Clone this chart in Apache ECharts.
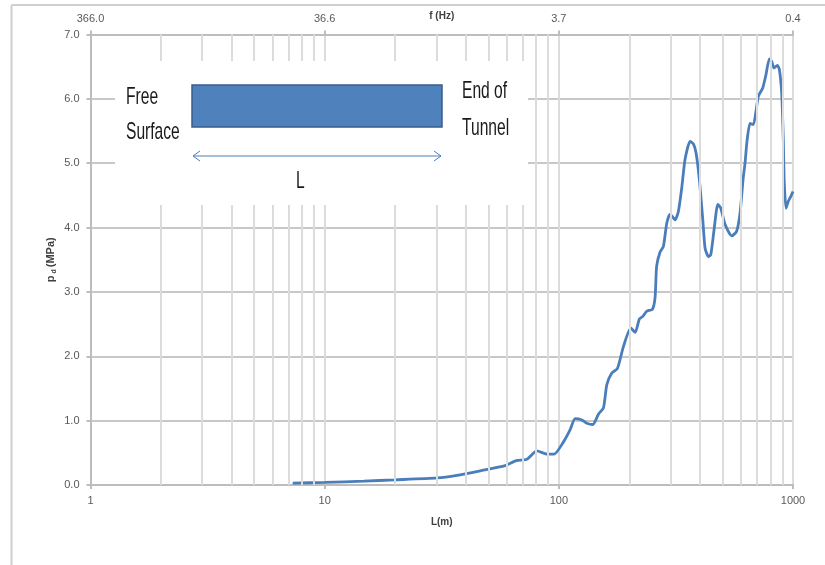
<!DOCTYPE html>
<html>
<head>
<meta charset="utf-8">
<script src="https://cdn.jsdelivr.net/npm/echarts@6/dist/echarts.min.js"></script>
<style>
  html, body { margin: 0; padding: 0; background: #ffffff; }
  #chart { width: 825px; height: 565px; }
</style>
</head>
<body>
<div id="chart"></div>
<script>
// Tunnel length L (m) and the resulting dynamic pressure p_d (MPa)
const lengthM = [
  7.3, 10, 14.7, 20, 30.2, 36.7, 46.2, 59, 65.8, 73.1,
  80.6, 88.9, 95.5, 104.7, 111.8, 117.4, 125.4, 131.7, 139.7, 147.6,
  155.1, 160.3, 168.4, 177.9, 188.7, 203, 211.8, 220.9, 228.4, 237.5,
  251, 257.7, 261.6, 270.6, 279.7, 289.1, 298.7, 313.7, 324, 335,
  346, 363.5, 375.5, 385.6, 398.4, 411.9, 421.3, 435.2, 445.6, 460.3,
  477.4, 491.7, 512.7, 547.4, 574, 594, 612, 624, 636.5, 655.4,
  677, 695.2, 711, 742.6, 767, 792.4, 811.3, 829.8, 857, 874.1,
  894.8, 909.1, 918, 933.7, 955, 977.7, 1000
];
const pressureMPa = [
  0.03, 0.04, 0.06, 0.08, 0.11, 0.15, 0.22, 0.30, 0.38, 0.40,
  0.53, 0.48, 0.48, 0.67, 0.86, 1.03, 1.01, 0.96, 0.94, 1.10,
  1.20, 1.56, 1.74, 1.81, 2.15, 2.44, 2.37, 2.58, 2.62, 2.70,
  2.73, 2.92, 3.40, 3.62, 3.71, 4.07, 4.21, 4.12, 4.25, 4.62,
  5.06, 5.34, 5.30, 5.16, 4.74, 4.12, 3.68, 3.55, 3.58, 3.97,
  4.36, 4.30, 4.05, 3.87, 3.94, 4.22, 4.75, 5.00, 5.35, 5.62,
  5.60, 5.81, 6.04, 6.17, 6.38, 6.62, 6.58, 6.48, 6.52, 6.46,
  6.09, 5.37, 4.69, 4.30, 4.41, 4.48, 4.56
];

// Intermediate log grid lines between the decades
const minorLengths = [2, 3, 4, 5, 6, 7, 8, 9, 20, 30, 40, 50, 60, 70, 80, 90,
                      200, 300, 400, 500, 600, 700, 800, 900];

// Frequency on the top axis: f = 366 / L
const freqFactor = 366;

const tickFont = { fontFamily: 'Liberation Sans', fontSize: 11, color: '#595959' };
const axisGrey = '#bdbdbd';

const chart = echarts.init(document.getElementById('chart'), null, { renderer: 'canvas' });

const insetText = (txt, x, y) => ({
  type: 'text', x: x, y: y, scaleX: 0.65, z: 60,
  style: {
    text: txt, fontFamily: 'Liberation Sans', fontSize: 24,
    fill: '#1a1a1a', align: 'left', verticalAlign: 'middle'
  }
});

chart.setOption({
  animation: false,
  backgroundColor: '#ffffff',
  grid: { left: 90.5, right: 32, top: 34.5, bottom: 80, outerBoundsMode: 'none' },
  xAxis: [
    {
      type: 'log', logBase: 10, min: 1, max: 1000, position: 'bottom',
      name: 'L(m)', nameLocation: 'middle', nameGap: 32, nameMoveOverlap: false,
      nameTextStyle: { fontFamily: 'Liberation Sans', fontSize: 10, fontWeight: 'bold', color: '#404040' },
      axisLine: { lineStyle: { color: axisGrey, width: 2 } },
      axisTick: { show: true, length: 4, lineStyle: { color: axisGrey, width: 2 } },
      axisLabel: Object.assign({ margin: 10, formatter: v => String(Math.round(v)) }, tickFont),
      splitLine: { show: true, lineStyle: { color: '#dcdcdc', width: 2 } },
      minorTick: { show: false }, minorSplitLine: { show: false }
    },
    {
      type: 'log', logBase: 10, min: 1, max: 1000, position: 'top',
      name: 'f (Hz)', nameLocation: 'middle', nameGap: 13, nameMoveOverlap: false,
      nameTextStyle: { fontFamily: 'Liberation Sans', fontSize: 10, fontWeight: 'bold', color: '#404040' },
      axisLine: { lineStyle: { color: axisGrey, width: 2 } },
      axisTick: { show: true, length: 4, lineStyle: { color: axisGrey, width: 2 } },
      axisLabel: Object.assign({ margin: 10, formatter: v => (freqFactor / v).toFixed(1) }, tickFont),
      splitLine: { show: false }
    }
  ],
  yAxis: {
    type: 'value', min: 0, max: 7, interval: 1,
    name: '{p|p}{sub|d}{p|(MPa)}', nameLocation: 'middle', nameGap: 33, nameMoveOverlap: false,
    nameTextStyle: {
      rich: {
        p: { fontFamily: 'Liberation Sans', fontSize: 11, fontWeight: 'bold', color: '#404040' },
        sub: { fontFamily: 'Liberation Sans', fontSize: 7, fontWeight: 'bold', color: '#404040', padding: [6, 2, 0, 2] }
      }
    },
    axisLine: { show: true, lineStyle: { color: axisGrey, width: 2 } },
    axisTick: { show: true, length: 4, lineStyle: { color: axisGrey, width: 2 } },
    axisLabel: Object.assign({ margin: 11, formatter: v => v.toFixed(1) }, tickFont),
    splitLine: { show: true, lineStyle: { color: '#c8c8c8', width: 2 } }
  },
  series: [
    {
      name: 'minor grid', type: 'line', data: [], z: 1, silent: true,
      markLine: {
        silent: true, symbol: ['none', 'none'], animation: false,
        label: { show: false },
        lineStyle: { color: '#dcdcdc', width: 2, type: 'solid' },
        emphasis: { disabled: true },
        data: minorLengths.map(v => ({ xAxis: v }))
      }
    },
    {
      name: 'p_d', type: 'line', z: 3,
      data: lengthM.map((L, i) => [L, pressureMPa[i]]),
      showSymbol: false, smooth: 0.2,
      lineStyle: { color: '#4a7ebb', width: 2.8 },
      emphasis: { disabled: true }
    }
  ],
  graphic: [
    // outer frame
    { type: 'line', shape: { x1: 11.5, y1: 5, x2: 11.5, y2: 565 }, style: { stroke: '#cfcfcf', lineWidth: 2 }, z: 60 },
    { type: 'line', shape: { x1: 11.5, y1: 5, x2: 825, y2: 5 }, style: { stroke: '#cfcfcf', lineWidth: 2 }, z: 60 },
    // inset sketch of the tunnel
    { type: 'rect', shape: { x: 115, y: 61, width: 413, height: 144 }, style: { fill: '#ffffff' }, z: 50 },
    { type: 'rect', shape: { x: 192, y: 85, width: 250, height: 42 },
      style: { fill: '#4f81bd', stroke: '#385d8a', lineWidth: 1.5 }, z: 55 },
    { type: 'line', shape: { x1: 193, y1: 156, x2: 441, y2: 156 }, style: { stroke: '#4a7ebb', lineWidth: 1 }, z: 55 },
    { type: 'polyline', shape: { points: [[200, 151], [193, 156], [200, 161]] }, style: { stroke: '#4a7ebb', lineWidth: 1, fill: null }, z: 55 },
    { type: 'polyline', shape: { points: [[434, 151], [441, 156], [434, 161]] }, style: { stroke: '#4a7ebb', lineWidth: 1, fill: null }, z: 55 },
    insetText('Free', 126, 97),
    insetText('Surface', 126, 132),
    insetText('End of', 462, 91),
    insetText('Tunnel', 462, 128),
    insetText('L', 296, 181)
  ]
});
</script>
</body>
</html>
